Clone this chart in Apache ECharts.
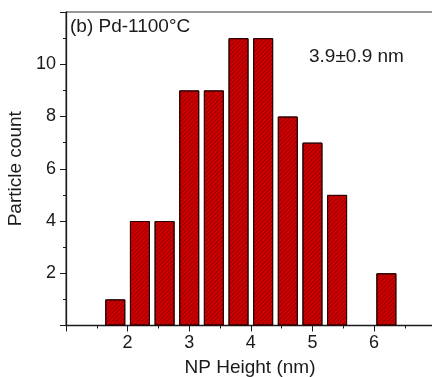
<!DOCTYPE html>
<html>
<head>
<meta charset="utf-8">
<script src="https://cdn.jsdelivr.net/npm/echarts@6/dist/echarts.min.js"></script>
<style>
html,body{margin:0;padding:0;background:#fff;}
#chart{width:432px;height:377px;}
</style>
</head>
<body>
<div id="chart"></div>
<script>
// Data
const binCenters = [1.8, 2.2, 2.6, 3.0, 3.4, 3.8, 4.2, 4.6, 5.0, 5.4, 5.8, 6.2];
const counts = [1, 4, 4, 9, 9, 11, 11, 8, 7, 5, 0, 2];
const xTickLabels = [2, 3, 4, 5, 6];
const yTickLabels = [2, 4, 6, 8, 10];
const panelTitle = '(b) Pd-1100°C';
const statText = '3.9±0.9 nm';
const xName = 'NP Height (nm)';
const yName = 'Particle count';

const FONT = '"Liberation Sans", Arial, sans-serif';
const chart = echarts.init(document.getElementById('chart'), null, {renderer: 'canvas'});

const barData = binCenters.map((c, i) => [c, counts[i] > 0 ? counts[i] : '-']);

chart.setOption({
  animation: false,
  backgroundColor: '#fff',
  grid: {
    left: 66, top: 12, width: 382, height: 313.5,
    outerBoundsMode: 'none', containLabel: false,
    show: true, borderColor: '#333', borderWidth: 1, backgroundColor: 'transparent'
  },
  xAxis: {
    type: 'value', min: 1, max: 7.2, interval: 1,
    axisLine: {show: true, lineStyle: {color: '#1a1a1a', width: 1.3}},
    axisTick: {show: true, inside: false, length: 6, lineStyle: {color: '#1a1a1a', width: 1}},
    minorTick: {show: true, splitNumber: 2, length: 3, lineStyle: {color: '#1a1a1a', width: 1}},
    splitLine: {show: false},
    axisLabel: {
      margin: 9, color: '#1a1a1a', fontFamily: FONT, fontSize: 18, showMaxLabel: false,
      formatter: v => (xTickLabels.indexOf(v) >= 0 ? String(v) : '')
    },
    name: xName, nameLocation: 'middle', nameGap: 33,
    nameTextStyle: {color: '#1a1a1a', fontFamily: FONT, fontSize: 19, padding: [0, 14, 0, 0]}
  },
  yAxis: {
    type: 'value', min: 0, max: 12, interval: 2,
    axisLine: {show: true, lineStyle: {color: '#1a1a1a', width: 1.3}},
    axisTick: {show: true, inside: false, length: 6, lineStyle: {color: '#1a1a1a', width: 1}},
    minorTick: {show: true, splitNumber: 2, length: 3, lineStyle: {color: '#1a1a1a', width: 1}},
    splitLine: {show: false},
    axisLabel: {
      margin: 10, color: '#1a1a1a', fontFamily: FONT, fontSize: 18,
      formatter: v => (yTickLabels.indexOf(v) >= 0 ? String(v) : '')
    },
    name: yName, nameLocation: 'middle', nameGap: 35, nameRotate: 90,
    nameTextStyle: {color: '#1a1a1a', fontFamily: FONT, fontSize: 19}
  },
  series: [{
    type: 'bar',
    data: barData,
    barWidth: 20,
    itemStyle: {
      color: '#d00000',
      borderColor: '#2a0000',
      borderWidth: 1,
      decal: {
        symbol: 'rect', symbolSize: 1,
        dashArrayX: [1, 0], dashArrayY: [1, 2],
        rotation: -Math.PI / 4,
        color: 'rgba(70,0,0,0.4)'
      }
    }
  }],
  graphic: [
    {type: 'text', left: 70, top: 17,
     style: {text: panelTitle, fill: '#1a1a1a', font: '19px ' + FONT}},
    {type: 'text', left: 309, top: 47,
     style: {text: statText, fill: '#1a1a1a', font: '19px ' + FONT}}
  ]
});
</script>
</body>
</html>
